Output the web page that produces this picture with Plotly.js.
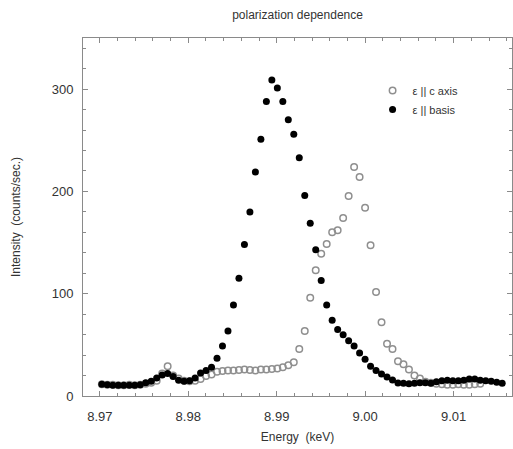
<!DOCTYPE html>
<html>
<head>
<meta charset="utf-8">
<script src="https://cdn.plot.ly/plotly-3.0.1.min.js"></script>
<style>html,body{margin:0;padding:0;background:#fff;}#chart{width:513px;height:449px;}</style>
</head>
<body>
<div id="chart"></div>
<script>
// Energy (keV) sampling grid
const energy = [
  8.97023, 8.97085, 8.97147, 8.97209, 8.97271, 8.97333, 8.97395, 8.97457, 8.97519, 8.97581,
  8.97643, 8.97705, 8.97767, 8.97829, 8.97891, 8.97953, 8.98015, 8.98077, 8.98139, 8.98201,
  8.98263, 8.98325, 8.98387, 8.98449, 8.98511, 8.98573, 8.98635, 8.98697, 8.98759, 8.98821,
  8.98883, 8.98945, 8.99007, 8.99069, 8.99131, 8.99193, 8.99255, 8.99317, 8.99379, 8.99441,
  8.99503, 8.99565, 8.99627, 8.99689, 8.99751, 8.99813, 8.99875, 8.99937, 8.99999, 9.00061,
  9.00123, 9.00185, 9.00247, 9.00309, 9.00371, 9.00433, 9.00495, 9.00557, 9.00619, 9.00681,
  9.00743, 9.00805, 9.00867, 9.00929, 9.00991, 9.01053, 9.01115, 9.01177, 9.01239, 9.01301,
  9.01363, 9.01425, 9.01487, 9.01549
];
// epsilon || c axis (open circles)
const cAxis = [
  11.5, 11, 11, 10.5, 10.5, 11, 10.5, 11, 12, 13,
  15, 22, 29, 20, 17, 15, 14.5, 15, 16.6, 19.5,
  21, 23.7, 24.5, 25, 25, 25.5, 26, 25.5, 25, 26,
  26, 26.5, 27, 28, 30, 33, 46, 63.5, 96, 123,
  139, 148.5, 160, 162, 174, 195.5, 224, 214, 184, 147.5,
  101.6, 72, 51, 46, 34, 31, 26, 20, 17, 14,
  13, 12, 11.5, 11, 11, 11.5, 11, 11, 11.5, 12
];
// epsilon || basis (filled circles)
const basis = [
  11.5, 11, 10.5, 10.5, 10.5, 10.5, 10.5, 11, 13, 14.5,
  17.5, 20.5, 22, 19, 15.5, 14.5, 15, 17.5, 22.5, 25,
  28, 37, 49, 63.5, 89, 115, 148, 180, 219, 251,
  288, 309, 301, 288, 270, 256, 233, 196, 169, 143,
  113, 89, 74, 65, 60, 54, 49, 42, 36, 29,
  25, 21.5, 18.6, 15.6, 12.7, 12.5, 12, 12.5, 13, 13,
  12.5, 14, 15, 15.5, 15, 15, 15.5, 16.5, 16.5, 15.5,
  15, 14.5, 13.5, 12.5
];
const seriesNames = ['\u03b5 || c axis', '\u03b5 || basis'];
const xTickVals = [8.97, 8.98, 8.99, 9.00, 9.01];
const xTickText = ['8.97', '8.98', '8.99', '9.00', '9.01'];
const yTickVals = [0, 100, 200, 300];

const font = 'Liberation Sans, Arial, Helvetica, sans-serif';
const txt = '#333333';
const frame = '#8a8a8a';

const traces = [
  {
    x: energy.slice(0, cAxis.length), y: cAxis, name: seriesNames[0],
    type: 'scatter', mode: 'markers',
    marker: {symbol: 'circle-open', size: 6.5, color: '#8f8f8f', line: {width: 1.5, color: '#8f8f8f'}}
  },
  {
    x: energy.slice(0, basis.length), y: basis, name: seriesNames[1],
    type: 'scatter', mode: 'markers',
    marker: {symbol: 'circle', size: 7, color: '#000000'}
  }
];

const layout = {
  width: 513, height: 449,
  margin: {l: 83, r: 1, t: 38, b: 53},
  paper_bgcolor: '#ffffff', plot_bgcolor: '#ffffff',
  font: {family: font, size: 12, color: txt},
  title: {text: 'polarization dependence', x: 0.58, xanchor: 'center', y: 0.968, yanchor: 'middle',
          font: {family: font, size: 12, color: txt}},
  showlegend: true,
  legend: {x: 0.675, y: 0.894, xanchor: 'left', yanchor: 'top', bgcolor: 'rgba(0,0,0,0)',
           font: {family: font, size: 11, color: txt}, itemwidth: 30, tracegroupgap: 0},
  xaxis: {
    range: [8.9681, 9.0166], showgrid: false, zeroline: false,
    showline: true, linecolor: frame, linewidth: 1, mirror: 'allticks',
    ticks: 'inside', ticklen: 5, tickcolor: frame, tickwidth: 1,
    tickvals: xTickVals, ticktext: xTickText, ticklabelstandoff: 8,
    minor: {dtick: 0.002, tick0: 8.97, ticks: 'inside', ticklen: 3, tickcolor: frame, showgrid: false},
    tickfont: {family: font, size: 13, color: txt},
    title: {text: 'Energy  (keV)', standoff: 10, font: {family: font, size: 12, color: txt}}
  },
  yaxis: {
    range: [0, 350], showgrid: false, zeroline: false,
    showline: true, linecolor: frame, linewidth: 1, mirror: 'allticks',
    ticks: 'inside', ticklen: 5, tickcolor: frame, tickwidth: 1,
    tickvals: yTickVals, ticklabelstandoff: 6,
    minor: {dtick: 20, tick0: 0, ticks: 'inside', ticklen: 3, tickcolor: frame, showgrid: false},
    tickfont: {family: font, size: 13, color: txt},
    title: {text: 'Intensity  (counts/sec.)', standoff: 28, font: {family: font, size: 12, color: txt}}
  }
};

Plotly.newPlot('chart', traces, layout, {displayModeBar: false, staticPlot: true});
</script>
</body>
</html>
